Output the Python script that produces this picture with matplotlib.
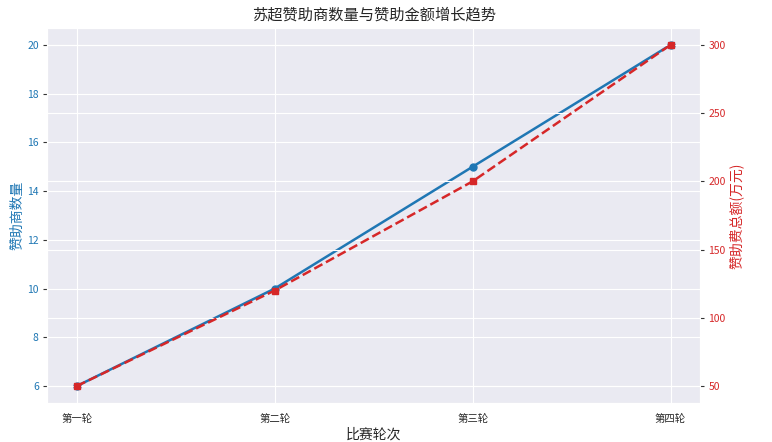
import matplotlib
matplotlib.use("Agg")
import matplotlib.pyplot as plt
import seaborn as sns

sns.set_style("darkgrid")
plt.rcParams['font.family'] = ['Noto Sans CJK SC', 'DejaVu Sans']
plt.rcParams['axes.unicode_minus'] = False

rounds = ["第一轮", "第二轮", "第三轮", "第四轮"]
sponsor_count = [6, 10, 15, 20]
sponsor_amount = [50, 120, 200, 300]

fig, ax1 = plt.subplots(figsize=(7.72, 4.42), dpi=100)
c1 = "#1f77b4"
c2 = "#d62728"

ax1.plot(rounds, sponsor_count, color=c1, marker="o", linewidth=1.8, markersize=5)
ax1.set_xlabel("比赛轮次", fontsize=10, labelpad=3)
ax1.set_ylabel("赞助商数量", color=c1, fontsize=10, labelpad=2)
ax1.tick_params(axis="y", labelcolor=c1, labelsize=7.5, left=True, length=3, width=0.8, color="#333333", pad=3)
ax1.tick_params(axis="x", labelsize=7.5, bottom=False, pad=4)

ax2 = ax1.twinx()
ax2.plot(rounds, sponsor_amount, color=c2, marker="s", linestyle="--", linewidth=1.8, markersize=5)
ax2.set_ylabel("赞助费总额(万元)", color=c2, fontsize=10, labelpad=2)
ax2.tick_params(axis="y", labelcolor=c2, labelsize=7.5, right=True, length=3, width=0.8, color="#333333", pad=3)

ax1.set_title("苏超赞助商数量与赞助金额增长趋势", fontsize=11, pad=6)

fig.subplots_adjust(left=0.061, right=0.907, top=0.937, bottom=0.088)
fig.savefig("out.png", dpi=100)
